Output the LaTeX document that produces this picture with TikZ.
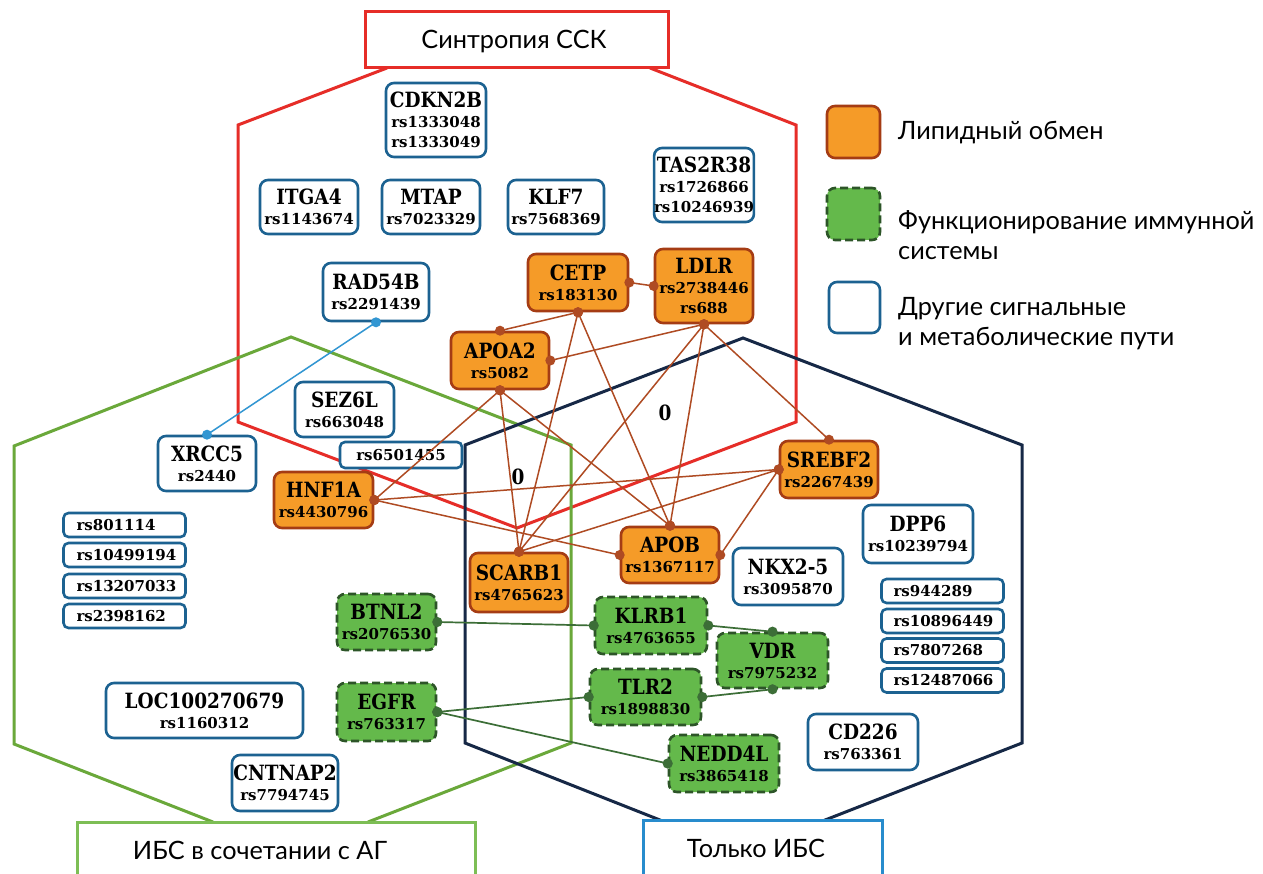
\documentclass[tikz,border=0pt]{standalone}
\usepackage{fontspec}
\setmainfont{DejaVu Serif}
\newfontfamily\labfont{Lato}
\newfontfamily\dvs{DejaVu Serif}
\newfontfamily\dvsc[FakeStretch=0.88]{DejaVu Serif}
\newcommand\gn{\dvsc\bfseries\fontsize{21}{20}\selectfont}
\newcommand\rsf{\dvs\bfseries\fontsize{15}{20}\selectfont}
\newcommand\labtxt{\labfont\fontsize{25.3}{30}\selectfont}
\definecolor{hexred}{RGB}{230,45,40}
\definecolor{hexgreen}{RGB}{106,168,58}
\definecolor{hexnavy}{RGB}{22,40,70}
\definecolor{labblue}{RGB}{40,140,205}
\definecolor{labgreen}{RGB}{125,190,85}
\definecolor{nodeblue}{RGB}{28,98,145}
\definecolor{orangef}{RGB}{245,155,40}
\definecolor{orangeb}{RGB}{165,60,20}
\definecolor{greenf}{RGB}{100,185,75}
\definecolor{greenb}{RGB}{45,85,40}
\definecolor{edgeo}{RGB}{175,75,35}
\definecolor{edgeg}{RGB}{60,110,55}
\definecolor{edgeb}{RGB}{50,150,210}
\newcommand\lnk[3]{\draw[#1] (#2) -- (#3); \fill[#1] (#2) circle (4.2); \fill[#1] (#3) circle (4.2);}
\begin{document}
\begin{tikzpicture}[x=1pt,y=-1pt,
  hexline/.style={line width=3pt, line join=miter},
  base/.style={rounded corners=8pt, line width=2.6pt, align=center, inner sep=0pt, anchor=center, font=\rsf},
  blu/.style={base, draw=nodeblue, fill=white},
  org/.style={base, draw=orangeb, fill=orangef},
  grn/.style={base, draw=greenb, fill=greenf, dash pattern=on 8pt off 4pt},
  sz/.style 2 args={minimum width=#1pt, minimum height=#2pt},
  single/.style={base, draw=nodeblue, fill=white, rounded corners=5pt, minimum height=24pt, text width=96pt, inner xsep=13pt, align=left},
  labnode/.style={font=\labtxt, inner sep=0pt},
  oedge/.style={draw=edgeo, fill=edgeo, line width=1.5pt},
  gedge/.style={draw=edgeg, fill=edgeg, line width=1.7pt},
  bedge/.style={draw=edgeb, fill=edgeb, line width=1.5pt},
  zero/.style={font=\gn, inner sep=0pt}
]
\useasboundingbox (0,0) rectangle (1263,874);
\fill[white] (0,0) rectangle (1263,874);

% hexagons
\draw[hexline, hexred] (387,68) -- (238,125) -- (238,422) -- (517,528) -- (796,422) -- (796,125) -- (650,68);
\draw[hexline, hexgreen] (213,822) -- (14,744) -- (14,446) -- (291,337) -- (571,445) -- (571,743) -- (368,822);
\draw[hexline, hexnavy] (665,822) -- (465,743) -- (465,445) -- (743,338) -- (1022,445) -- (1022,743) -- (820,822);

% group labels
\node[draw=hexred, line width=3pt, fill=white, minimum width=303pt, minimum height=56pt, inner sep=0pt] (labssk) at (516.5,40) {};
\node[labnode] (labssktxt) at (514,42) {Синтропия ССК};
\draw[line width=3pt, labgreen, fill=white] (77,880) -- (77,822) -- (475,822) -- (475,880);
\node[labnode] (labag) at (260,850) {ИБС в сочетании с АГ};
\draw[line width=3pt, labblue, fill=white] (643,880) -- (643,820) -- (882,820) -- (882,880);
\node[labnode] (labibs) at (756,848) {Только ИБС};

% legend
\node[org, sz={53}{52}] (legorg) at (853.5,132) {};
\node[grn, sz={53}{52}] (leggrn) at (853.5,214) {};
\node[blu, sz={51}{51}] (legblu) at (854.5,307.5) {};
\node[labnode, anchor=west] (legorgtxt) at (898,133) {Липидный обмен};
\node[labnode, anchor=west, align=left] (leggrntxt) at (898,235) {Функционирование иммунной\\системы};
\node[labnode, anchor=west, align=left] (legblutxt) at (898,323.5) {Другие сигнальные\\и метаболические пути};

% blue nodes
\node[blu, sz={100}{74}] (CDKN2B) at (436,120) {{\gn CDKN2B}\\rs1333048\\rs1333049};
\node[blu, sz={98}{54}] (ITGA4) at (309,207) {{\gn ITGA4}\\rs1143674};
\node[blu, sz={98}{54}] (MTAP) at (431,207) {{\gn MTAP}\\rs7023329};
\node[blu, sz={96}{54}] (KLF7) at (556,207) {{\gn KLF7}\\rs7568369};
\node[blu, sz={96}{74}] (TAS2R38) at (704,185) {{\gn TAS2R38}\\rs1726866\\rs10246939};
\node[blu, sz={106}{58}] (RAD54B) at (376,292) {{\gn RAD54B}\\rs2291439};
\node[blu, sz={99}{55}] (SEZ6L) at (344.5,409.5) {{\gn SEZ6L}\\rs663048};
\node[blu, sz={122}{26}, rounded corners=5pt] (rs6501455) at (401,455) {rs6501455};
\node[blu, sz={98}{55}] (XRCC5) at (207,463.5) {{\gn XRCC5}\\rs2440};
\node[single] (rs801114) at (124.5,525) {rs801114};
\node[single] (rs10499194) at (124.5,555) {rs10499194};
\node[single] (rs13207033) at (124.5,586) {rs13207033};
\node[single] (rs2398162) at (124.5,616) {rs2398162};
\node[blu, sz={197}{55}] (LOC) at (204.5,710.5) {{\gn LOC100270679}\\rs1160312};
\node[blu, sz={106}{56}] (CNTNAP2) at (285,783) {{\gn CNTNAP2}\\rs7794745};
\node[blu, sz={110}{57}] (NKX25) at (788,576.5) {{\gn NKX2-5}\\rs3095870};
\node[blu, sz={110}{58}] (DPP6) at (918,534) {{\gn DPP6}\\rs10239794};
\node[single, text width=98pt, inner xsep=12pt] (rs944289) at (942.5,591) {rs944289};
\node[single, text width=98pt, inner xsep=12pt] (rs10896449) at (942.5,621) {rs10896449};
\node[single, text width=98pt, inner xsep=12pt] (rs7807268) at (942.5,650.5) {rs7807268};
\node[single, text width=98pt, inner xsep=12pt] (rs12487066) at (942.5,680.5) {rs12487066};
\node[blu, sz={110}{56}] (CD226) at (863,742) {{\gn CD226}\\rs763361};

% orange nodes
\node[org, sz={100}{57}] (CETP) at (578,282.5) {{\gn CETP}\\rs183130};
\node[org, sz={98}{74}] (LDLR) at (704,286) {{\gn LDLR}\\rs2738446\\rs688};
\node[org, sz={98}{57}] (APOA2) at (500,360.5) {{\gn APOA2}\\rs5082};
\node[org, sz={99}{56}] (HNF1A) at (323.5,500) {{\gn HNF1A}\\rs4430796};
\node[org, sz={98}{57}] (SREBF2) at (829,469.5) {{\gn SREBF2}\\rs2267439};
\node[org, sz={98}{56}] (APOB) at (670,555) {{\gn APOB}\\rs1367117};
\node[org, sz={98}{59}] (SCARB1) at (519,582.5) {{\gn SCARB1}\\rs4765623};

% green nodes
\node[grn, sz={99}{56}] (BTNL2) at (386.5,622) {{\gn BTNL2}\\rs2076530};
\node[grn, sz={99}{58}] (EGFR) at (386.5,712) {{\gn EGFR}\\rs763317};
\node[grn, sz={112}{57}] (KLRB1) at (651,625.5) {{\gn KLRB1}\\rs4763655};
\node[grn, sz={111}{55}] (VDR) at (772.5,660.5) {{\gn VDR}\\rs7975232};
\node[grn, sz={111}{56}] (TLR2) at (645.5,697) {{\gn TLR2}\\rs1898830};
\node[grn, sz={110}{57}] (NEDD4L) at (724,763.5) {{\gn NEDD4L}\\rs3865418};

% zero labels
\node[zero] (zeroA) at (665,413) {0};
\node[zero] (zeroB) at (518,477) {0};

% orange edges
\lnk{oedge}{CETP.east}{LDLR.west}
\lnk{oedge}{CETP.south}{APOA2.north}
\lnk{oedge}{CETP.south}{SCARB1.north}
\lnk{oedge}{CETP.south}{APOB.north}
\lnk{oedge}{LDLR.south}{APOA2.east}
\lnk{oedge}{LDLR.south}{SCARB1.north}
\lnk{oedge}{LDLR.south}{APOB.north}
\lnk{oedge}{LDLR.south}{SREBF2.north}
\lnk{oedge}{APOA2.south}{HNF1A.east}
\lnk{oedge}{APOA2.south}{SCARB1.north}
\lnk{oedge}{APOA2.south}{APOB.north}
\lnk{oedge}{HNF1A.east}{SREBF2.west}
\lnk{oedge}{HNF1A.east}{APOB.west}
\lnk{oedge}{SREBF2.west}{SCARB1.north}
\lnk{oedge}{SREBF2.west}{APOB.east}

% green edges
\lnk{gedge}{BTNL2.east}{KLRB1.west}
\lnk{gedge}{KLRB1.east}{VDR.north}
\lnk{gedge}{TLR2.east}{VDR.south}
\lnk{gedge}{EGFR.east}{TLR2.west}
\lnk{gedge}{EGFR.east}{NEDD4L.west}

% blue edge
\lnk{bedge}{RAD54B.south}{XRCC5.north}
\end{tikzpicture}
\end{document}
